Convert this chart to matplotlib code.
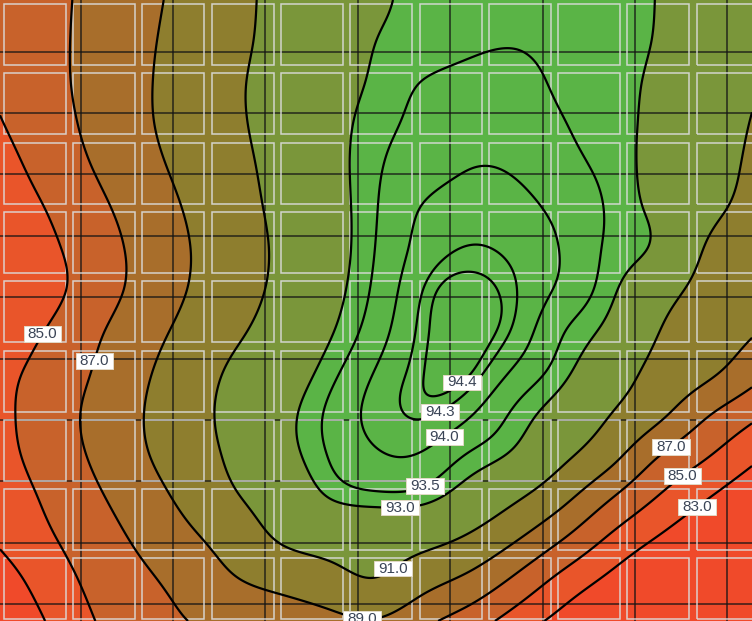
import numpy as np
import matplotlib
matplotlib.use("Agg")
import matplotlib.pyplot as plt
from matplotlib.patches import Rectangle

# Response values on a regular 17 x 16 lattice (row 0 is the top edge)
response = np.array([
    [85.50, 86.45, 87.48, 88.50, 89.55, 90.60, 91.39, 92.04, 92.80, 93.20, 93.25, 93.30, 93.25, 93.15, 92.97, 92.20, 91.40],
    [85.37, 86.46, 87.56, 88.65, 89.67, 90.66, 91.48, 92.25, 93.00, 93.20, 93.38, 93.46, 93.33, 93.20, 92.92, 92.00, 91.28],
    [85.27, 86.42, 87.57, 88.73, 89.78, 90.79, 91.62, 92.47, 93.13, 93.52, 93.68, 93.66, 93.40, 93.20, 92.80, 91.88, 91.13],
    [84.89, 86.17, 87.44, 88.68, 89.75, 90.75, 91.65, 92.58, 93.31, 93.62, 93.80, 93.76, 93.52, 93.20, 92.75, 91.78, 90.95],
    [84.31, 85.70, 87.08, 88.36, 89.52, 90.55, 91.57, 92.58, 93.42, 93.75, 93.98, 93.93, 93.67, 93.31, 92.65, 91.67, 90.80],
    [83.90, 85.08, 86.50, 87.87, 89.17, 90.33, 91.45, 92.52, 93.47, 94.02, 94.20, 94.12, 93.85, 93.42, 92.70, 91.47, 90.60],
    [83.60, 84.60, 86.04, 87.52, 88.93, 90.14, 91.33, 92.48, 93.52, 94.14, 94.31, 94.24, 93.95, 93.40, 92.75, 90.95, 90.20],
    [83.50, 84.40, 86.00, 87.56, 89.03, 90.24, 91.44, 92.61, 93.62, 94.30, 94.46, 94.30, 93.88, 93.16, 91.77, 90.50, 89.75],
    [83.60, 85.09, 86.65, 88.16, 89.52, 90.71, 91.81, 92.89, 93.79, 94.36, 94.48, 94.23, 93.52, 92.67, 91.05, 90.09, 89.15],
    [84.35, 85.72, 87.10, 88.66, 90.02, 91.31, 92.28, 93.30, 94.03, 94.395, 94.41, 93.89, 93.16, 91.88, 90.50, 89.44, 87.77],
    [84.53, 85.97, 87.43, 88.91, 90.27, 91.54, 92.65, 93.60, 94.13, 94.33, 94.04, 93.36, 92.40, 91.00, 89.46, 87.29, 85.48],
    [84.36, 85.79, 87.24, 88.74, 90.08, 91.36, 92.54, 93.53, 93.95, 93.95, 93.43, 92.77, 91.34, 89.60, 87.10, 85.21, 83.50],
    [83.89, 85.28, 86.67, 88.10, 89.51, 90.86, 91.97, 93.03, 93.35, 93.25, 92.44, 91.23, 89.50, 87.14, 84.95, 83.21, 81.47],
    [83.30, 84.73, 86.05, 87.36, 88.64, 89.91, 91.20, 91.70, 91.85, 91.60, 90.73, 89.14, 87.02, 84.71, 82.88, 81.08, 79.27],
    [82.05, 83.91, 85.48, 86.62, 87.75, 88.89, 89.63, 90.36, 90.93, 89.77, 88.52, 86.58, 84.37, 82.54, 80.66, 78.80, 77.00],
    [81.20, 83.08, 84.96, 85.99, 87.00, 87.46, 87.92, 88.40, 88.85, 87.48, 86.00, 84.06, 82.28, 80.50, 78.70, 77.00, 75.20],
])

# filled bands and their colours
band_edges = [60.0, 83.0, 85.0, 87.0, 89.0, 91.0, 93.0, 100.0]
band_colors = ["#f04a2a", "#e9552a", "#c8622b", "#a86e2b", "#8e7e2e", "#7a963a", "#5ab446"]

# contour lines and where their labels sit (lattice units)
line_levels = [83.0, 85.0, 87.0, 89.0, 91.0, 93.0, 93.5, 94.0, 94.3, 94.4]
label_spots = {
    83.0: [(14.83, 12.25)],
    85.0: [(0.94, 8.09), (14.53, 11.50)],
    87.0: [(2.04, 8.74), (14.21, 10.72)],
    89.0: [(7.70, 14.95)],
    91.0: [(8.40, 13.79)],
    93.0: [(8.51, 12.37)],
    93.5: [(9.00, 11.64)],
    94.0: [(9.47, 10.58)],
    94.3: [(9.40, 10.02)],
    94.4: [(9.72, 9.08)],
}


def spline_weights(n, t):
    """Natural cubic spline weights for unit-spaced knots 0..n-1 evaluated at t."""
    A = np.zeros((n, n))
    B = np.zeros((n, n))
    A[0, 0] = A[-1, -1] = 1.0
    for i in range(1, n - 1):
        A[i, i - 1:i + 2] = [1.0, 4.0, 1.0]
        B[i, i - 1:i + 2] = [6.0, -12.0, 6.0]
    second = np.linalg.solve(A, B)
    idx = np.clip(np.floor(t).astype(int), 0, n - 2)
    u = t - idx
    W = np.zeros((len(t), n))
    rows = np.arange(len(t))
    W[rows, idx] += 1.0 - u
    W[rows, idx + 1] += u
    c0 = ((1.0 - u) ** 3 - (1.0 - u)) / 6.0
    c1 = (u ** 3 - u) / 6.0
    W += c0[:, None] * second[idx] + c1[:, None] * second[idx + 1]
    return W


ny, nx = response.shape
xs = np.linspace(0, nx - 1, 753)
ys = np.linspace(0, ny - 1, 622)
surface = spline_weights(ny, ys) @ response @ spline_weights(nx, xs).T

W_PX, H_PX = 752, 621
fig = plt.figure(figsize=(W_PX / 100, H_PX / 100), dpi=100)
ax = fig.add_axes([0, 0, 1, 1])
ax.set_xlim(0, nx - 1)
ax.set_ylim(ny - 1, 0)
ax.axis("off")

ax.contourf(xs, ys, surface, levels=band_edges, colors=band_colors, zorder=0)

# overlay mesh: dark lines
for k in range(8):
    px = 80.6 + 92.4 * k
    ax.plot([px / W_PX] * 2, [0, 1], transform=ax.transAxes, color="#141414",
            lw=1.25, alpha=0.75, zorder=2, solid_capstyle="butt")
for k in range(10):
    py = 51.6 + 61.4 * k
    ax.plot([0, 1], [1 - py / H_PX] * 2, transform=ax.transAxes, color="#141414",
            lw=1.25, alpha=0.75, zorder=2, solid_capstyle="butt")

# overlay mesh: light tiles
for i in range(11):
    for j in range(9):
        x0 = 3.8 + 69.3 * i
        y0 = 4.0 + 69.3 * j
        ax.add_patch(Rectangle((x0 / W_PX, 1 - (y0 + 61.0) / H_PX), 62.0 / W_PX, 61.0 / H_PX,
                               transform=ax.transAxes, fill=False, ec="#dcdcdc",
                               lw=1.1, alpha=0.9, zorder=3))

cs = ax.contour(xs, ys, surface, levels=line_levels, colors="black", linewidths=1.6, zorder=4)

# level labels, each placed on the nearest point of its own contour
paths = cs.get_paths()
for i, lev in enumerate(line_levels):
    verts = paths[i].vertices if i < len(paths) else np.empty((0, 2))
    for (sx, sy) in label_spots.get(lev, []):
        if len(verts):
            d = (verts[:, 0] - sx) ** 2 + ((verts[:, 1] - sy) * 0.88) ** 2
            lx, ly = verts[np.argmin(d)]
        else:
            lx, ly = sx, sy
        ax.text(lx, ly, f"{lev:.1f}", ha="center", va="center", fontsize=11,
                family="Liberation Sans", color="#3a4456", zorder=6,
                bbox=dict(boxstyle="square,pad=0.25", mutation_aspect=0.2, fc="white",
                          ec="#e2d9c6", lw=0.7))

fig.savefig("out.png", dpi=100)
